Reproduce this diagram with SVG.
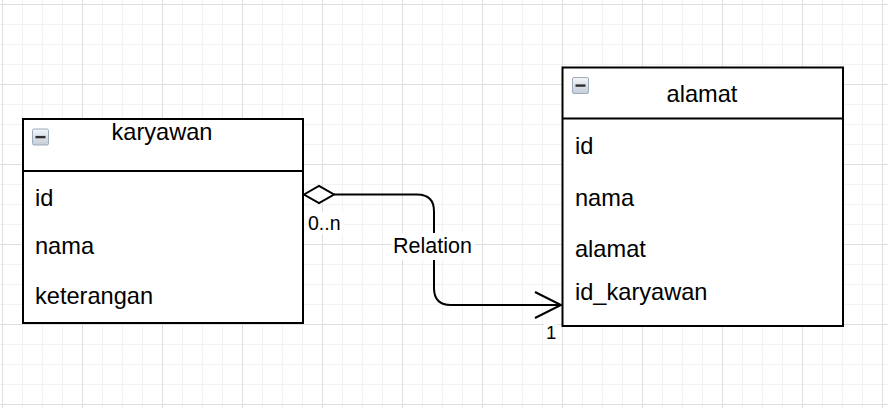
<svg xmlns="http://www.w3.org/2000/svg" width="888" height="408" viewBox="0 0 888 408">
<defs>
<pattern id="grid" patternUnits="userSpaceOnUse" x="2" y="4" width="80" height="80">
<path d="M20.5 0V80M40.5 0V80M60.5 0V80M0 20.5H80M0 40.5H80M0 60.5H80" stroke="#f2f2f2" stroke-width="1" fill="none"/>
<path d="M0.5 0V80M0 0.5H80" stroke="#dedede" stroke-width="1" fill="none"/>
</pattern>
<linearGradient id="ig" x1="0" y1="0" x2="0" y2="1">
<stop offset="0" stop-color="#f4f6f9"/>
<stop offset="1" stop-color="#c3cdd9"/>
</linearGradient>
<g id="icon">
<rect x="0.5" y="0.5" width="16" height="16" rx="1.5" fill="url(#ig)" stroke="#9eabbb"/>
<rect x="3.5" y="7.4" width="10" height="2.4" fill="#2e2e2e"/>
</g>
</defs>
<style>
.box{fill:#ffffff;stroke:#000000;stroke-width:2}
.sep{stroke:#000000;stroke-width:2}
.t{font-family:"Liberation Sans",Arial,Helvetica,sans-serif;font-size:23.6px;fill:#000000}
.c{text-anchor:middle}
.lbl{font-family:"Liberation Sans",Arial,Helvetica,sans-serif;fill:#000000}
.edge{fill:none;stroke:#000000;stroke-width:2}
</style>
<rect x="0" y="0" width="888" height="408" fill="#ffffff"/>
<rect x="0" y="0" width="888" height="408" fill="url(#grid)"/>
<g id="connectors">
<path class="edge" d="M334 194.5H417Q434 194.5 434 211.5V288Q434 305 451 305H561"/>
<polyline class="edge" points="535,292 561,305 535,318"/>
<polygon points="304,194.5 319,186 334,194.5 319,203" fill="#ffffff" stroke="#000000" stroke-width="2"/>
<rect x="391" y="233" width="83" height="27" fill="#ffffff"/>
<text class="lbl" x="432.5" y="253" text-anchor="middle" font-size="21.5px">Relation</text>
<rect x="306" y="212" width="37" height="22" fill="#ffffff"/>
<text class="lbl" x="308" y="230" font-size="19.5px">0..n</text>
<rect x="544" y="324" width="13" height="20" fill="#ffffff"/>
<text class="lbl" x="546" y="338.5" font-size="18.5px">1</text>
</g>
<g id="karyawan">
<rect class="box" x="23" y="119" width="280" height="204"/>
<line class="sep" x1="23" y1="171" x2="303" y2="171"/>
<use href="#icon" x="32" y="128.5"/>
<text class="t c" x="162" y="140">karyawan</text>
<text class="t" x="35" y="206">id</text>
<text class="t" x="35" y="254">nama</text>
<text class="t" x="35" y="304">keterangan</text>
</g>
<g id="alamat">
<rect class="box" x="562.5" y="67.5" width="280.5" height="258.5"/>
<line class="sep" x1="562.5" y1="118.5" x2="843" y2="118.5"/>
<use href="#icon" x="572" y="77"/>
<text class="t c" x="702" y="102">alamat</text>
<text class="t" x="575" y="154">id</text>
<text class="t" x="575" y="206">nama</text>
<text class="t" x="575" y="257">alamat</text>
<text class="t" x="575" y="300">id_karyawan</text>
</g>
</svg>
